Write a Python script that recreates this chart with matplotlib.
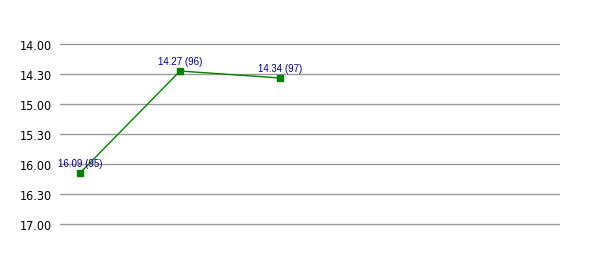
import matplotlib
matplotlib.use('Agg')
import matplotlib.pyplot as plt
from matplotlib.ticker import FixedLocator, FuncFormatter

# times as m.ss strings, with race numbers
times = ['16.09', '14.27', '14.34']
races = ['95', '96', '97']
n_slots = 5
yticks = [14.0, 14.5, 15.0, 15.5, 16.0, 16.5, 17.0]


def to_minutes(s):
    m, sec = s.split('.')
    return int(m) + int(sec) / 60.0


def fmt_time(v, pos=None):
    m = int(v)
    sec = int(round((v - m) * 60))
    return f'{m}.{sec:02d}'


values = [to_minutes(t) for t in times]
xs = list(range(len(values)))

plt.rcParams['font.family'] = ['DejaVu Sans']

fig = plt.figure(figsize=(6, 2.55), dpi=100)
# 60 px per minute, axes padded by 3 px so the edge grid lines are not clipped
ax = fig.add_axes([60 / 600, 1 - 228 / 255, 500 / 600, 186 / 255])

ax.set_ylim(17.05, 13.95)
ax.set_xlim(-0.2, n_slots - 0.2)
ax.yaxis.set_major_locator(FixedLocator(yticks))
ax.yaxis.set_major_formatter(FuncFormatter(fmt_time))
ax.set_xticks([])
ax.tick_params(axis='y', length=0, pad=6, labelsize=9)
for lab in ax.get_yticklabels():
    lab.set_fontstretch('condensed')
for s in ax.spines.values():
    s.set_visible(False)
ax.grid(axis='y', color='#999999', linewidth=1)
ax.set_axisbelow(True)

ax.plot(xs, values, color='#008000', linewidth=1, marker='s', markersize=4,
        clip_on=False, zorder=3)

for x, v, t, r in zip(xs, values, times, races):
    ax.annotate(f'{t} ({r})', (x, v), xytext=(0, 3.5), textcoords='offset points',
                ha='center', va='bottom', fontsize=7, color='#000080',
                family=['Liberation Sans', 'DejaVu Sans'], zorder=4)

fig.savefig('out.png', dpi=100)
